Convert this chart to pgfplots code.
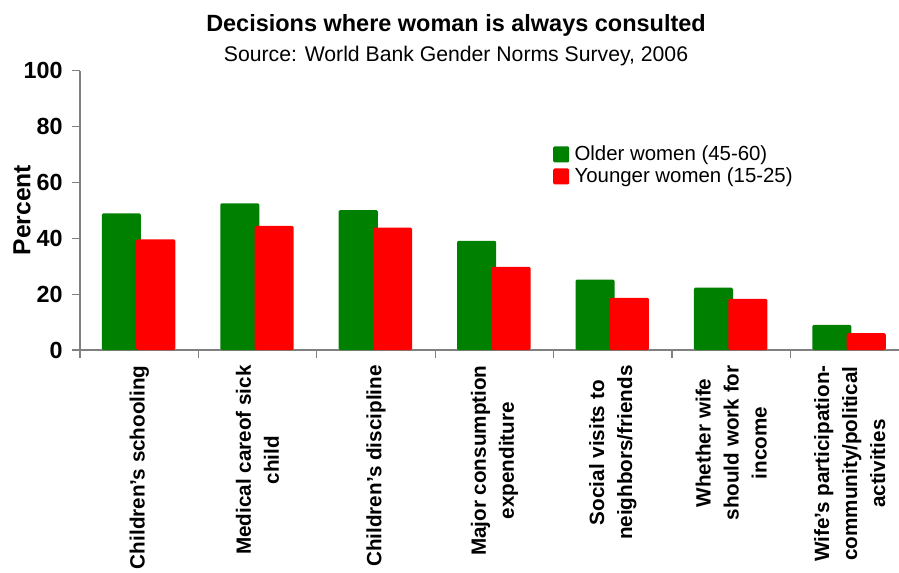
\documentclass[border=0pt]{standalone}
\usepackage{pgfplots}
\pgfplotsset{compat=1.18}
\usepackage{pgfplotstable}
\usepackage{fontspec}
\setmainfont{Liberation Sans}

\definecolor{olderc}{RGB}{0,128,0}
\definecolor{youngc}{RGB}{255,0,0}
\definecolor{axc}{RGB}{128,128,128}

% share of decisions where the woman is always consulted (%)
\pgfplotstableread{
idx older younger
0   48.9  39.6
1   52.5  44.4
2   50.1  43.8
3   39.1  29.8
4   25.2  18.7
5   22.3  18.3
6    9.0   6.0
}\decisions

\begin{document}
\begin{tikzpicture}
\begin{axis}[
  at={(60pt,166.5pt)}, anchor=south west,
  scale only axis, width=614.25pt, height=209.5pt,
  xmin=-0.5, xmax=6.417, ymin=0, ymax=100,
  axis x line*=bottom, axis y line*=left,
  axis line style={draw=axc, line width=0.9pt},
  tick align=outside, major tick length=6pt,
  ytick={0,20,...,100},
  ytick style={draw=axc, line width=0.9pt},
  yticklabel style={xshift=-3.5pt, font=\fontsize{17.5}{20}\selectfont\bfseries},
  /pgf/number format/assume math mode=true,
  xtick={0,...,6},
  xtick style={draw=none},
  xticklabels={
    Children's schooling,
    Medical careof sick\\child,
    Children's discipline,
    Major consumption\\expenditure,
    Social visits to\\neighbors/friends,
    Whether wife\\should work for\\income,
    Wife's participation-\\community/political\\activities},
  x tick label style={yshift=-2pt, rotate=90, anchor=east, align=center,
    font=\fontsize{15.5}{21}\selectfont\bfseries},
  extra x ticks={-0.5,0.5,1.5,2.5,3.5,4.5,5.5},
  extra x tick labels={},
  extra x tick style={xtick style={draw=axc, line width=0.9pt}},
  ylabel={Percent},
  ylabel style={at={(axis description cs:-0.0708,0.501)}, anchor=center,
    font=\fontsize{18.5}{22}\selectfont\bfseries},
  legend style={at={(rel axis cs:0.5775,0.741)}, anchor=north west,
    draw=none, fill=none, inner sep=0pt, row sep=0pt,
    font=\fontsize{15.3}{18}\selectfont},
  legend cell align=left,
  legend image code/.code={\fill[#1,draw=none,rounded corners=1pt] (0pt,-6pt) rectangle (12pt,6pt);
    \path (14pt,0pt);},
]
\addplot[ybar, fill=olderc, draw=none, rounded corners=1pt, bar width=0.33, bar shift=-0.15]
  table[x=idx, y=older] {\decisions};
\addlegendentry{Older women (45-60)}
\addplot[ybar, fill=youngc, draw=none, rounded corners=1pt, bar width=0.33, bar shift=0.14]
  table[x=idx, y=younger] {\decisions};
\addlegendentry{Younger women (15-25)}
\end{axis}
\node[anchor=base, font=\fontsize{17.6}{21}\selectfont\bfseries] at (342pt,405pt)
  {Decisions where woman is always consulted};
\node[anchor=base, font=\fontsize{15.9}{19}\selectfont] at (342pt,382.9pt)
  {Source: World Bank Gender Norms Survey, 2006};
\pgfresetboundingbox
\path[use as bounding box] (0pt,0pt) rectangle (674.25pt,429pt);
\end{tikzpicture}
\end{document}
